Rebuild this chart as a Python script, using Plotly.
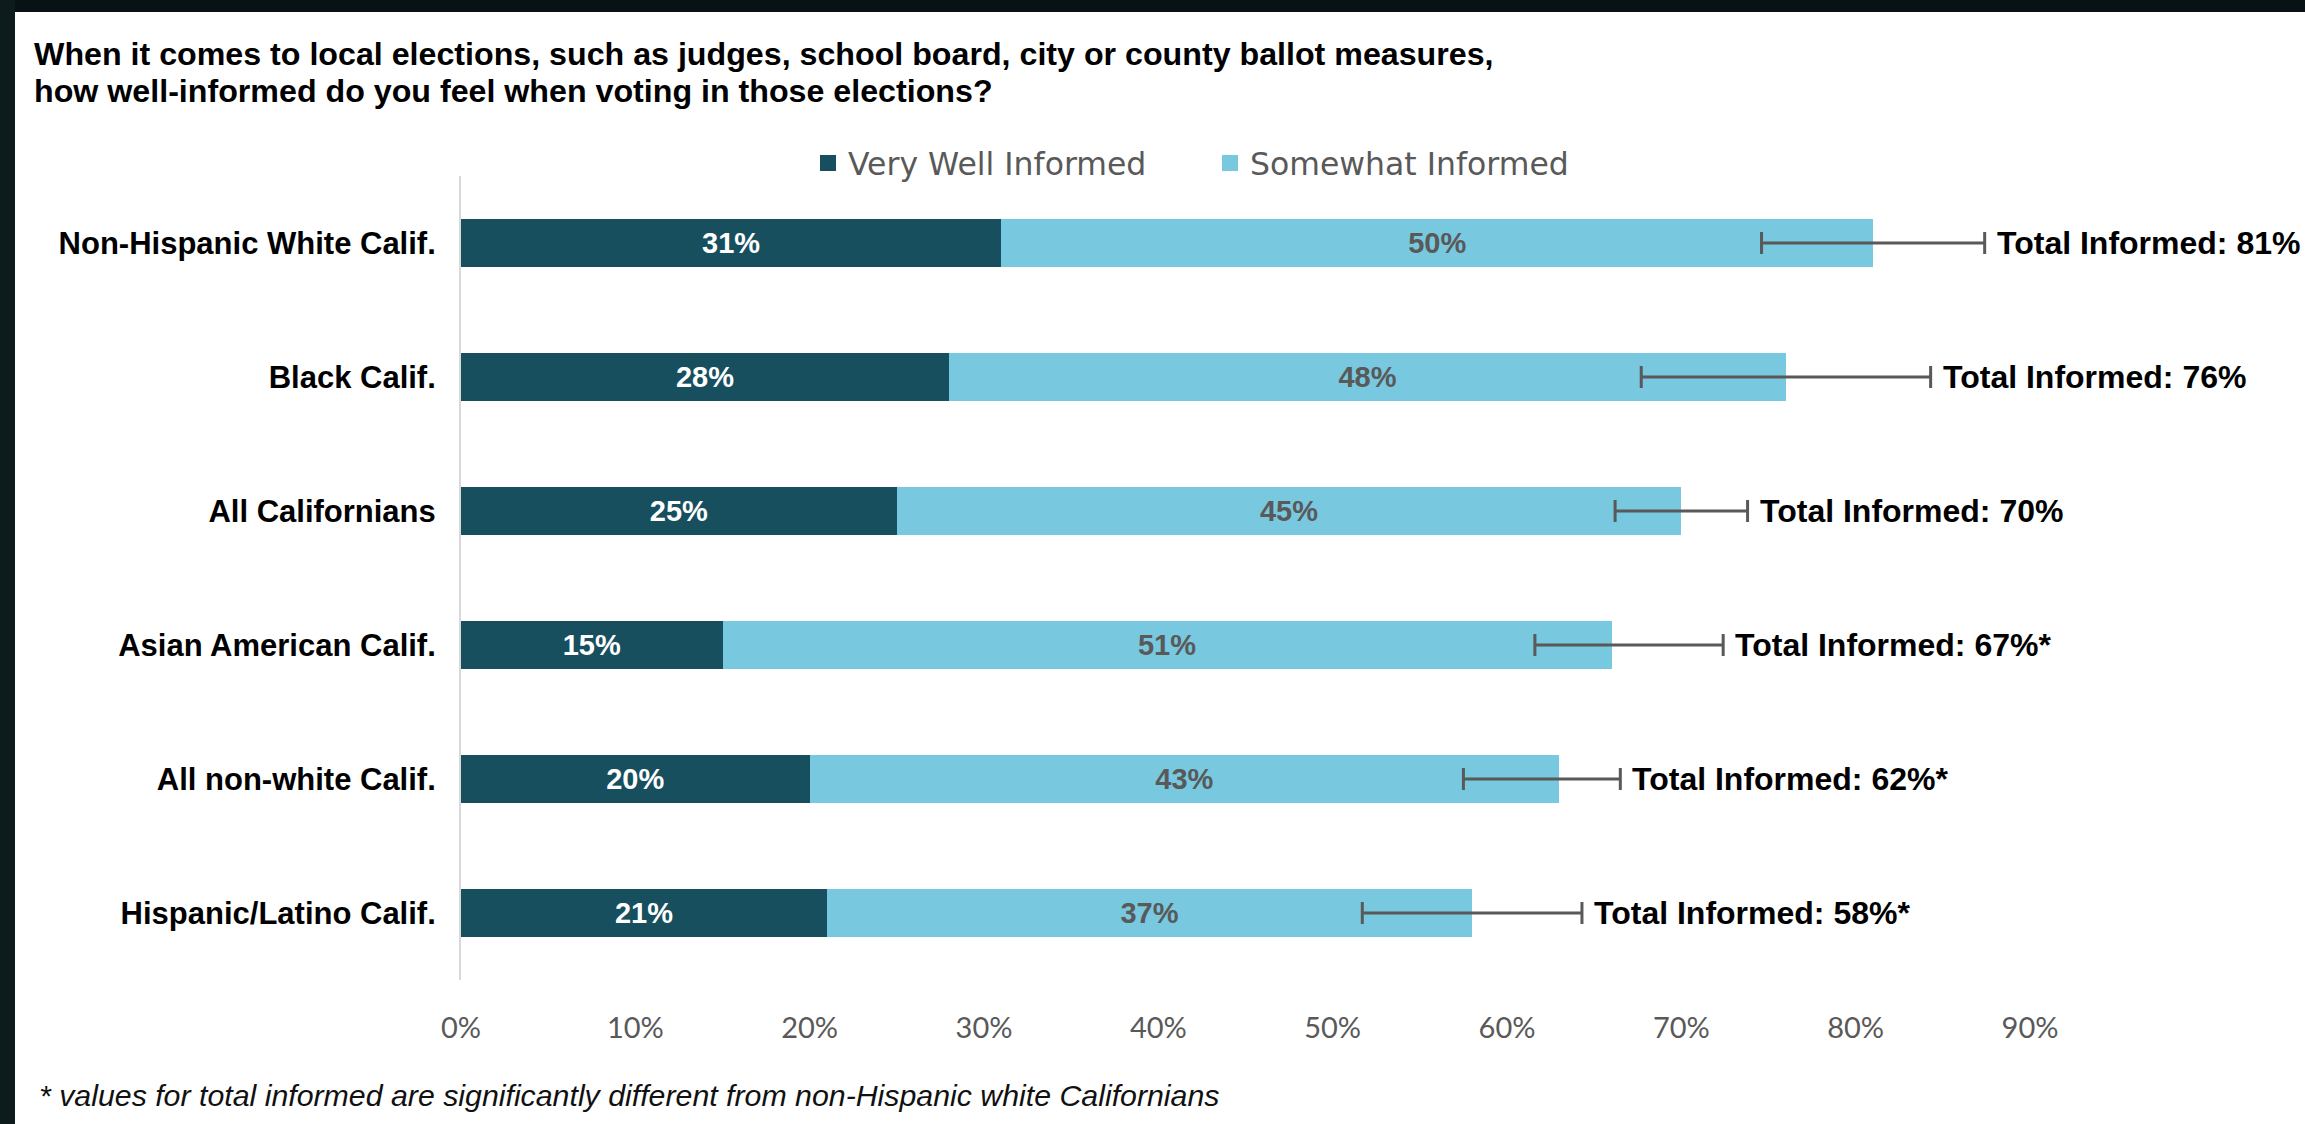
import plotly.graph_objects as go

# Survey results: how well-informed respondents feel in local elections
groups = [
    "Non-Hispanic White Calif.",
    "Black Calif.",
    "All Californians",
    "Asian American Calif.",
    "All non-white Calif.",
    "Hispanic/Latino Calif.",
]
very_well = [31, 28, 25, 15, 20, 21]
somewhat = [50, 48, 45, 51, 43, 37]
total_informed = [81, 76, 70, 67, 62, 58]
margin_of_error = [6.4, 8.3, 3.8, 5.4, 4.5, 6.3]
significance_mark = ["", "", "", "*", "*", "*"]
x_ticks = [0, 10, 20, 30, 40, 50, 60, 70, 80, 90]
x_tick_labels = [f"{v}%" for v in x_ticks]

# Canvas and plot-area geometry (pixels)
W, H = 2305, 1124
L, R, T, B = 461, 275, 176, 144
PW, PH = W - L - R, H - T - B


def fx(px):
    """Horizontal pixel position -> paper coordinate."""
    return (px - L) / PW


def fy(py):
    """Vertical pixel position (from top) -> paper coordinate."""
    return (H - B - py) / PH


DARK = "#174F5F"
LIGHT = "#78C8DF"
GREY = "#595959"
ARIAL = "Liberation Sans, Arial, sans-serif"

fig = go.Figure()

fig.add_bar(
    y=groups, x=very_well, orientation="h", name="Very Well Informed",
    legendgroup="very", showlegend=False,
    marker=dict(color=DARK, line_width=0),
    text=[f"{v}%" for v in very_well], textposition="inside",
    insidetextanchor="middle", constraintext="none",
    textfont=dict(family=ARIAL, size=29, color="white", weight="bold"),
    hoverinfo="skip",
)
fig.add_bar(
    y=groups, x=somewhat, orientation="h", name="Somewhat Informed",
    legendgroup="some", showlegend=False,
    marker=dict(color=LIGHT, line_width=0),
    text=[f"{v}%" for v in somewhat], textposition="inside",
    insidetextanchor="middle", constraintext="none",
    textfont=dict(family=ARIAL, size=29, color=GREY, weight="bold"),
    hoverinfo="skip",
)

# Legend entries with square swatches
for name, color, grp in [("Very Well Informed", DARK, "very"),
                         ("Somewhat Informed", LIGHT, "some")]:
    fig.add_scatter(
        x=[None], y=[None], mode="markers", name=name, legendgroup=grp,
        marker=dict(symbol="square", size=16, color=color),
        hoverinfo="skip",
    )

# Error bars around the total informed share
fig.add_scatter(
    y=groups, x=total_informed, mode="markers",
    marker=dict(color="rgba(0,0,0,0)", size=1),
    error_x=dict(type="data", array=margin_of_error, symmetric=True,
                 color=GREY, thickness=3, width=11),
    showlegend=False, hoverinfo="skip",
)

for g, t, m, s in zip(groups, total_informed, margin_of_error, significance_mark):
    fig.add_annotation(
        x=t + m, y=g, xref="x", yref="y", xanchor="left", yanchor="middle",
        xshift=10, showarrow=False,
        text=f"<b>Total Informed: {t}%{s}</b>",
        font=dict(family=ARIAL, size=32, color="black"),
    )

# Title (two lines)
fig.add_annotation(
    x=fx(32), y=fy(54), xref="paper", yref="paper", xanchor="left",
    yanchor="middle", showarrow=False,
    text="<b>When it comes to local elections, such as judges, school board, city or county ballot measures,</b>",
    font=dict(family=ARIAL, size=32.2, color="black"),
)
fig.add_annotation(
    x=fx(32), y=fy(91), xref="paper", yref="paper", xanchor="left",
    yanchor="middle", showarrow=False,
    text="<b>how well-informed do you feel when voting in those elections?</b>",
    font=dict(family=ARIAL, size=32.2, color="black"),
)

# Footnote
fig.add_annotation(
    x=fx(37), y=fy(1095), xref="paper", yref="paper", xanchor="left",
    yanchor="middle", showarrow=False,
    text="<i>* values for total informed are significantly different from non-Hispanic white Californians</i>",
    font=dict(family=ARIAL, size=30.3, color="#111111"),
)

# Dark frame along the top and left edges
fig.add_shape(type="rect", xref="paper", yref="paper",
              x0=fx(0), x1=fx(W), y0=fy(12), y1=fy(0),
              fillcolor="#081113", line_width=0, layer="above")
fig.add_shape(type="rect", xref="paper", yref="paper",
              x0=fx(0), x1=fx(15), y0=fy(H), y1=fy(0),
              fillcolor="#0e1b1c", line_width=0, layer="above")

fig.update_layout(
    width=W, height=H,
    margin=dict(l=L, r=R, t=T, b=B, autoexpand=False),
    paper_bgcolor="white", plot_bgcolor="white",
    barmode="stack", bargap=0.644,
    showlegend=True,
    legend=dict(
        orientation="h", x=fx(808), xanchor="left", y=fy(163),
        yanchor="middle",
        font=dict(family="DejaVu Sans, sans-serif", size=31.5, color=GREY),
        itemwidth=30, itemsizing="trace", traceorder="normal",
        entrywidth=357, entrywidthmode="pixels",
        bgcolor="rgba(0,0,0,0)",
    ),
    xaxis=dict(
        range=[0, 90], tickvals=x_ticks, ticktext=x_tick_labels,
        showgrid=False, zeroline=False, showline=False, ticks="",
        tickfont=dict(family="Lato", size=29, color=GREY),
        ticklabelstandoff=28, fixedrange=True,
    ),
    yaxis=dict(
        categoryorder="array", categoryarray=groups, autorange="reversed",
        showline=True, linecolor="#D9D9D9", linewidth=2, showgrid=False,
        zeroline=False, ticks="",
        tickfont=dict(family=ARIAL, size=31, color="black", weight="bold"),
        ticklabelstandoff=17, fixedrange=True,
    ),
)

fig.write_html("out.html")
